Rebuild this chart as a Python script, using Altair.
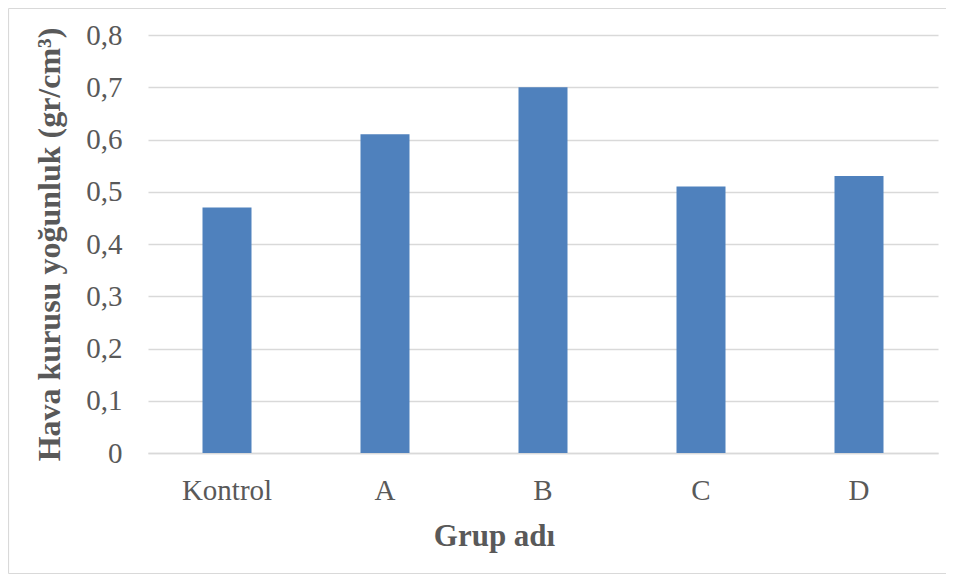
import altair as alt
import pandas as pd

groups = ["Kontrol", "A", "B", "C", "D"]
values = [0.47, 0.61, 0.70, 0.51, 0.53]
y_ticks = [0, 0.1, 0.2, 0.3, 0.4, 0.5, 0.6, 0.7, 0.8]

df = pd.DataFrame({"Grup": groups, "Deger": values})

FONT = "Liberation Serif"
TXT = "#595959"
GRID = "#d9d9d9"

bars = alt.Chart(df).mark_bar(size=49, color="#4F81BD").encode(
    x=alt.X(
        "Grup:N",
        sort=groups,
        title="Grup adı",
        scale=alt.Scale(paddingInner=0, paddingOuter=0),
        axis=alt.Axis(
            labelAngle=0,
            labelFont=FONT,
            labelFontSize=29,
            labelColor=TXT,
            labelBaseline="alphabetic",
            labelPadding=46,
            ticks=False,
            domainColor=GRID,
            domainWidth=1.5,
            titleFont=FONT,
            titleFontSize=31,
            titleFontWeight="bold",
            titleColor=TXT,
            titleX=346,
            titleY=92,
            titleBaseline="alphabetic",
        ),
    ),
    y=alt.Y(
        "Deger:Q",
        title="Hava kurusu yoğunluk (gr/cm³)",
        scale=alt.Scale(domain=[0, 0.8], nice=False),
        axis=alt.Axis(
            values=y_ticks,
            labelExpr="datum.value == 0 ? '0' : replace(format(datum.value, '.1f'), '.', ',')",
            domain=False,
            ticks=False,
            gridColor=GRID,
            gridWidth=1.5,
            labelFont=FONT,
            labelFontSize=29,
            labelColor=TXT,
            labelPadding=26,
            titleFont=FONT,
            titleFontSize=32,
            titleFontWeight="bold",
            titleColor=TXT,
            titleX=-89,
            titleY=209,
            titleBaseline="alphabetic",
            titleAngle=270,
        ),
    ),
)

frame_src = pd.DataFrame({"k": [0]})
frame_top = alt.Chart(frame_src).mark_rule(color=GRID, strokeWidth=1.2).encode(
    x=alt.value(-139.5), x2=alt.value(810), y=alt.value(-26.5)
)
frame_left = alt.Chart(frame_src).mark_rule(color=GRID, strokeWidth=1.2).encode(
    x=alt.value(-139.5), y=alt.value(-26.5), y2=alt.value(538.5)
)
frame_bottom = alt.Chart(frame_src).mark_rule(color=GRID, strokeWidth=1.2).encode(
    x=alt.value(-139.5), x2=alt.value(810), y=alt.value(538.5)
)

chart = alt.layer(frame_top, frame_left, frame_bottom, bars).properties(
    width=790,
    height=418,
    autosize="none",
    padding={"left": 140, "top": 27, "right": 8, "bottom": 122},
    background="white",
).configure_view(strokeWidth=0)

chart.save("out.html", embed_options={"renderer": "svg", "actions": False})
